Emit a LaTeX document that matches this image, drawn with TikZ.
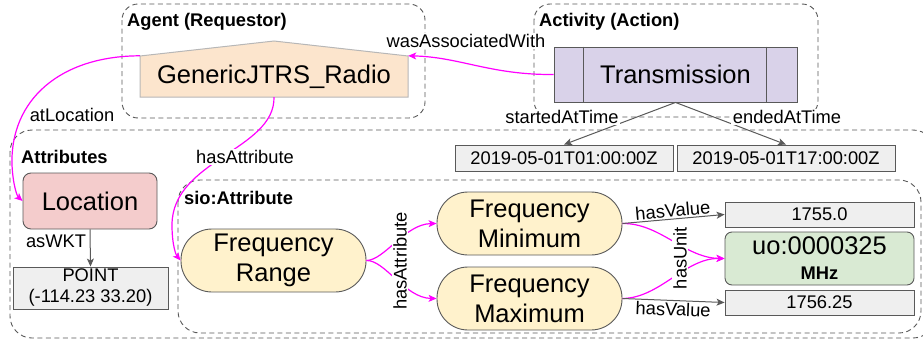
\documentclass[tikz,border=0pt]{standalone}
\usepackage{fontspec}
\setmainfont{Liberation Sans}
\usetikzlibrary{arrows.meta,calc}
\definecolor{peach}{HTML}{FCE5CD}
\definecolor{lav}{HTML}{D9D2E9}
\definecolor{pinkc}{HTML}{F4CCCC}
\definecolor{yel}{HTML}{FFF2CC}
\definecolor{grn}{HTML}{D9EAD3}
\definecolor{lgray}{HTML}{EFEFEF}
\definecolor{dgray}{HTML}{595959}
\definecolor{genb}{HTML}{B7B7B7}
\definecolor{mag}{HTML}{FF00FF}
\newcommand\myBig{\fontsize{25.5}{30}\selectfont}
\newcommand\mySmall{\fontsize{18.3}{21}\selectfont}
\begin{document}
\begin{tikzpicture}[x=1pt,y=-1pt,
  container/.style={draw=dgray, dash pattern=on 5pt off 3.5pt, line width=0.9pt, rounded corners=16pt},
  title/.style={anchor=west, font={\mySmall\bfseries}, inner sep=0pt},
  box/.style={draw=dgray, line width=0.9pt, inner sep=0pt, align=center},
  lit/.style={box, fill=lgray, font=\mySmall},
  pill/.style={box, fill=yel, minimum width=185pt, minimum height=63pt, rounded corners=31pt, font=\myBig},
  lbl/.style={fill=white, inner sep=1.5pt, font=\mySmall},
  magedge/.style={draw=mag, line width=1.2pt, -{Stealth[length=8pt,width=7pt,inset=2pt]}},
  grayedge/.style={draw=dgray, line width=1pt, -{Stealth[length=8pt,width=7pt,inset=2pt]}},
]
\useasboundingbox (0,0) rectangle (923,343);
\clip (0,0) rectangle (923,343);
% containers
\draw[container] (122,4) rectangle (425,118);
\draw[container] (534,4) rectangle (818,117);
\draw[container, rounded corners=22pt] (10,130) rectangle (935,338);
\draw[container, rounded corners=22pt] (178,180) rectangle (921,333);
% titles
\node[title] (tagent) at (127,22) {Agent (Requestor)};
\node[title] (tact) at (539,22) {Activity (Action)};
\node[title] (tattr) at (21,157) {Attributes};
\node[title] (tsio) at (184,198) {sio:Attribute};
% agent shape
\draw[fill=peach, draw=genb, line width=1pt] (140,56) -- (274,41) -- (408,56) -- (408,97) -- (140,97) -- cycle;
\node[inner sep=0pt, minimum width=268pt, minimum height=41pt, font=\myBig] (gen) at (274,76.5) {GenericJTRS\_Radio};
% activity
\node[box, fill=lav, minimum width=243pt, minimum height=55pt, font=\myBig] (trans) at (675.5,74.5) {Transmission};
\draw[dgray, line width=0.9pt] ($(trans.north west)+(30,0)$) -- ($(trans.south west)+(30,0)$);
\draw[dgray, line width=0.9pt] ($(trans.north east)+(-31,0)$) -- ($(trans.south east)+(-31,0)$);
\node[lit, minimum width=218pt, minimum height=26pt] (t1) at (564,158) {2019-05-01T01:00:00Z};
\node[lit, minimum width=218pt, minimum height=26pt] (t2) at (786,158) {2019-05-01T17:00:00Z};
% location
\node[box, fill=pinkc, minimum width=134pt, minimum height=56pt, rounded corners=8pt, font=\myBig] (loc) at (90,201) {Location};
\node[lit, minimum width=155pt, minimum height=42pt] (pt) at (90.5,288) {POINT\\(-114.23 33.20)};
% attributes
\node[pill] (fr) at (273.5,260.5) {Frequency\\Range};
\node[pill] (fmin) at (529.5,223.5) {Frequency\\Minimum};
\node[pill] (fmax) at (529.5,298.5) {Frequency\\Maximum};
\node[lit, minimum width=189pt, minimum height=25pt] (v1) at (819.5,214.5) {1755.0};
\node[box, fill=grn, minimum width=189pt, minimum height=53pt, rounded corners=7pt, font=\myBig] (uo) at (819.5,258.5) {uo:0000325\\[-5pt]{\mySmall\bfseries MHz}};
\node[lit, minimum width=189pt, minimum height=25pt] (v2) at (819.5,302.5) {1756.25};
% edges
\draw[magedge] (trans.west) .. controls (490,75) and (460,57) .. (gen.north east);
\draw[magedge] (gen.north west) .. controls (60,56) and (10,100) .. (12,165) .. controls (13,185) and (17,196) .. (loc.west);
\draw[magedge] (gen.south) .. controls (275,150) and (172,160) .. (172,225) .. controls (172,245) and (176,255) .. (fr.west);
\draw[grayedge] (trans.south) -- (t1.north);
\draw[grayedge] (trans.south) -- (t2.north);
\draw[grayedge] (loc.south) -- (pt.north);
\draw[magedge] (fr.east) .. controls (385,260) and (405,224) .. (fmin.west);
\draw[magedge] (fr.east) .. controls (385,260) and (405,298) .. (fmax.west);
\draw[magedge] (fmin.east) .. controls (660,223) and (685,258) .. (uo.west);
\draw[magedge] (fmax.east) .. controls (660,298) and (685,258) .. (uo.west);
\draw[grayedge] (fmin.east) -- node[lbl, sloped, above, fill=none] (lhv1) {hasValue} (v1.west);
\draw[grayedge] (fmax.east) -- node[lbl, sloped, below, fill=none] (lhv2) {hasValue} (v2.west);
% labels
\node[lbl] (lwas) at (466,41) {wasAssociatedWith};
\node[lbl] (lat) at (72,115) {atLocation};
\node[lbl] (lha) at (245,157) {hasAttribute};
\node[lbl] (lsa) at (562,117) {startedAtTime};
\node[lbl] (lea) at (787,117) {endedAtTime};
\node[lbl] (lwkt) at (56,241) {asWKT};
\node[lbl, rotate=90] (lha2) at (400,261) {hasAttribute};
\node[lbl, rotate=90] (lhu) at (680,258) {hasUnit};
\end{tikzpicture}
\end{document}
